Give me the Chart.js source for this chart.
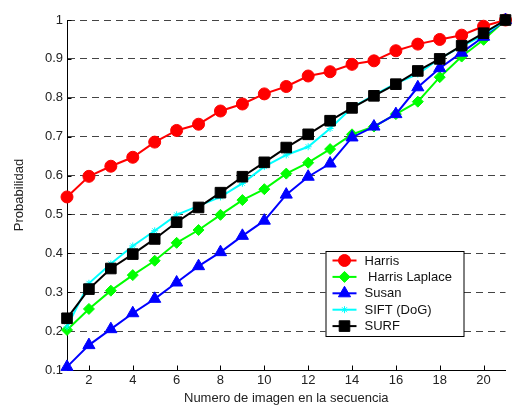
<!DOCTYPE html>
<html>
<head>
<meta charset="utf-8">
<script src="https://cdn.jsdelivr.net/npm/chart.js@4/dist/chart.umd.min.js"></script>
<style>
    html, body { margin: 0; padding: 0; background: #fff; }
    #chart { display: block; }
</style>
</head>
<body>
<canvas id="chart" width="514" height="405"></canvas>
<script>
// --- Values ---
const imageNumbers = [1, 2, 3, 4, 5, 6, 7, 8, 9, 10, 11, 12, 13, 14, 15, 16, 17, 18, 19, 20, 21];

const harris        = [0.545, 0.598, 0.624, 0.647, 0.686, 0.716, 0.732, 0.766, 0.784, 0.810, 0.829, 0.856, 0.867, 0.886, 0.895, 0.921, 0.938, 0.950, 0.961, 0.984, 1.0];
const harrisLaplace = [0.203, 0.257, 0.304, 0.344, 0.381, 0.427, 0.460, 0.499, 0.537, 0.565, 0.605, 0.633, 0.668, 0.706, 0.726, 0.758, 0.790, 0.853, 0.906, 0.949, 1.0];
const susan         = [0.108, 0.164, 0.205, 0.246, 0.283, 0.325, 0.367, 0.403, 0.445, 0.484, 0.551, 0.597, 0.631, 0.698, 0.726, 0.758, 0.827, 0.876, 0.916, 0.957, 1.0];
const siftDoG       = [0.211, 0.323, 0.373, 0.419, 0.458, 0.499, 0.522, 0.545, 0.580, 0.623, 0.653, 0.674, 0.721, 0.775, 0.807, 0.837, 0.861, 0.901, 0.932, 0.961, 1.0];
const surf          = [0.233, 0.308, 0.361, 0.398, 0.437, 0.480, 0.518, 0.556, 0.597, 0.634, 0.672, 0.706, 0.741, 0.774, 0.805, 0.835, 0.869, 0.900, 0.934, 0.966, 1.0];

const seriesNames = ['Harris', ' Harris Laplace', 'Susan', 'SIFT (DoG)', 'SURF'];
const xTickValues = [2, 4, 6, 8, 10, 12, 14, 16, 18, 20];
const yTickValues = [0.1, 0.2, 0.3, 0.4, 0.5, 0.6, 0.7, 0.8, 0.9, 1];

const FONT = '"Liberation Sans", Arial, Helvetica, sans-serif';
Chart.defaults.font.family = FONT;
Chart.defaults.color = '#222';

const toPoints = (values) => values.map((v, i) => ({ x: imageNumbers[i], y: v }));

// MATLAB style: later series drawn on top
function makeSeries(label, values, color, pointStyle, radius, order) {
    return {
        label: label,
        data: toPoints(values),
        borderColor: color,
        backgroundColor: color,
        borderWidth: 2,
        pointStyle: pointStyle,
        pointRadius: radius,
        pointHoverRadius: radius,
        pointBorderWidth: 1,
        pointBorderColor: color,
        pointBackgroundColor: color,
        tension: 0,
        fill: false,
        clip: false,
        order: order
    };
}

// --- Inward tick marks on both axes ---
const innerTicks = {
    id: 'innerTicks',
    beforeDatasetsDraw(chart) {
        const { ctx, chartArea, scales } = chart;
        ctx.save();
        ctx.strokeStyle = '#000';
        ctx.lineWidth = 1;
        ctx.beginPath();
        xTickValues.forEach(v => {
            const px = Math.round(scales.x.getPixelForValue(v)) + 0.5;
            ctx.moveTo(px, chartArea.bottom);
            ctx.lineTo(px, chartArea.bottom - 4.5);
        });
        yTickValues.forEach(v => {
            const py = Math.round(scales.y.getPixelForValue(v)) + 0.5;
            ctx.moveTo(chartArea.left, py);
            ctx.lineTo(chartArea.left + 4.5, py);
        });
        ctx.stroke();
        ctx.restore();
    }
};

// --- Legend box inside the plot, bottom right ---
const insideLegend = {
    id: 'insideLegend',
    afterDraw(chart) {
        const { ctx, chartArea } = chart;
        const box = { x: chartArea.right - 180, y: chartArea.bottom - 119, w: 138, h: 85 };
        ctx.save();
        ctx.fillStyle = '#fff';
        ctx.fillRect(box.x, box.y, box.w, box.h);
        ctx.strokeStyle = '#000';
        ctx.lineWidth = 1;
        ctx.strokeRect(box.x + 0.5, box.y + 0.5, box.w, box.h);

        ctx.font = '13px ' + FONT;
        ctx.textBaseline = 'middle';
        ctx.textAlign = 'left';
        chart.data.datasets.forEach((ds, i) => {
            const y = box.y + 9.5 + i * 16.4;
            ctx.strokeStyle = ds.borderColor;
            ctx.fillStyle = ds.borderColor;
            ctx.lineWidth = 2;
            ctx.beginPath();
            ctx.moveTo(box.x + 7, y);
            ctx.lineTo(box.x + 31, y);
            ctx.stroke();
            ctx.lineWidth = 1;
            Chart.helpers.drawPoint(ctx, {
                pointStyle: ds.pointStyle,
                radius: ds.pointRadius,
                rotation: 0,
                borderWidth: 1
            }, box.x + 19, y);
            ctx.fillStyle = '#111';
            ctx.fillText(ds.label, box.x + 39, y + 0.5);
        });
        ctx.restore();
    }
};

new Chart(document.getElementById('chart'), {
    type: 'line',
    data: {
        datasets: [
            makeSeries(seriesNames[0], harris,        '#ff0000', 'circle',   6,   4),
            makeSeries(seriesNames[1], harrisLaplace, '#00ff00', 'rectRot',  5.5, 3),
            makeSeries(seriesNames[2], susan,         '#0000ff', 'triangle', 7,   2),
            makeSeries(seriesNames[3], siftDoG,       '#00ffff', 'star',     3.5, 1),
            makeSeries(seriesNames[4], surf,          '#000000', 'rect',     7.5, 0)
        ]
    },
    options: {
        responsive: false,
        animation: false,
        devicePixelRatio: 1,
        layout: { padding: { left: 0, right: 3, top: 20, bottom: 0 } },
        plugins: {
            legend: { display: false },
            tooltip: { enabled: false }
        },
        scales: {
            x: {
                type: 'linear',
                min: 1,
                max: 21,
                afterBuildTicks: (scale) => { scale.ticks = xTickValues.map(v => ({ value: v })); },
                afterFit: (scale) => { scale.height = 35; },
                grid: { display: false, drawTicks: false },
                border: { display: true, color: '#000', width: 1 },
                ticks: { font: { size: 13 }, color: '#222', padding: 3, maxRotation: 0 },
                title: {
                    display: true,
                    text: 'Numero de imagen en la secuencia',
                    font: { size: 13, lineHeight: 1 },
                    color: '#222',
                    padding: { top: 0, bottom: 0 }
                }
            },
            y: {
                type: 'linear',
                min: 0.1,
                max: 1,
                afterBuildTicks: (scale) => { scale.ticks = yTickValues.map(v => ({ value: v })); },
                afterFit: (scale) => { scale.width = 67; },
                grid: { color: '#444', lineWidth: 1, drawTicks: false },
                border: { display: true, color: '#000', width: 1, dash: [7, 5] },
                ticks: {
                    font: { size: 13 },
                    color: '#222',
                    padding: 4,
                    callback: (v) => (v === 1 ? '1' : Number(v).toFixed(1))
                },
                title: {
                    display: true,
                    text: 'Probabilidad',
                    font: { size: 13 },
                    color: '#222',
                    padding: { top: 12, bottom: 0 }
                }
            }
        }
    },
    plugins: [innerTicks, insideLegend]
});
</script>
</body>
</html>
